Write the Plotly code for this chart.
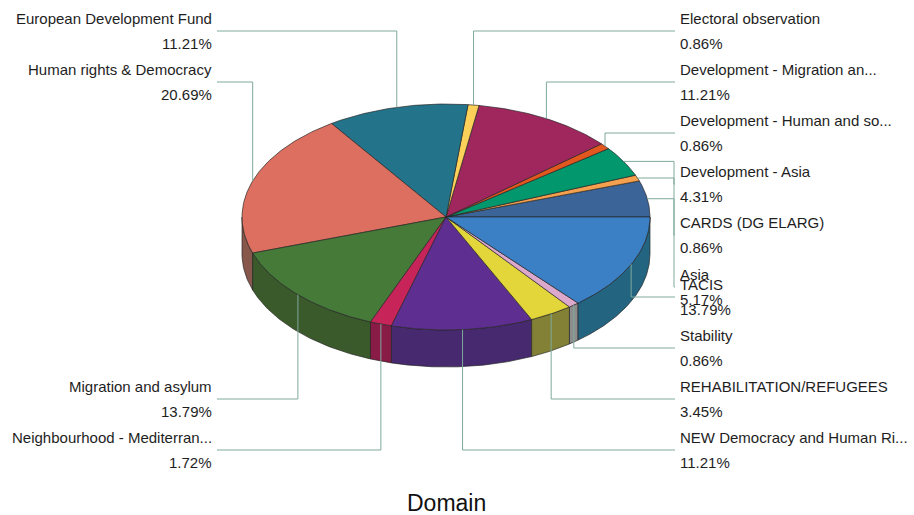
import numpy as np
import plotly.graph_objects as go

# ---------------- data ----------------
categories = [
    "Asia", "CARDS (DG ELARG)", "Development - Asia", "Development - Human and so...",
    "Development - Migration an...", "Electoral observation", "European Development Fund",
    "Human rights & Democracy", "Migration and asylum", "Neighbourhood - Mediterran...",
    "NEW Democracy and Human Ri...", "REHABILITATION/REFUGEES", "Stability", "TACIS",
]
counts = [6, 1, 5, 1, 13, 1, 13, 24, 16, 2, 13, 4, 1, 16]
chart_title = "Domain"

# ---------------- styles ----------------
top_colors = [
    "#3b6499", "#f4a04f", "#03976d", "#e2571e", "#a0275e", "#fdd05a", "#23748b",
    "#dc6f5f", "#467a39", "#c7245a", "#5e2e91", "#e3d63b", "#dca9cd", "#3b7fc4",
]
side_colors = [
    "#2a4a73", "#b8773a", "#026f50", "#a84016", "#771d46", "#bd9c43", "#1a5767",
    "#87574c", "#3a5a2b", "#891c47", "#46296f", "#828135", "#8c8c8c", "#236581",
]
# label layout: side and leader y (page pixel) per category
label_side = ["R", "R", "R", "R", "R", "R", "L", "L", "L", "L", "R", "R", "R", "R"]
label_y = [287, 235, 184, 133, 82, 31, 31, 82, 399, 450, 450, 399, 348, 297]

W, H = 914, 515
CX, CY, RX, RY, DEPTH = 446, 217, 204, 113, 37
RIGHT_X, LEFT_X, KNEE_X = 675, 217, 674
LEADER = "#7fa99b"
EDGE = "rgba(35,35,35,0.85)"
FONT = "Liberation Sans, Arial, sans-serif"

total = float(sum(counts))
fracs = [c / total for c in counts]
starts = np.concatenate([[0.0], np.cumsum(fracs)[:-1]]) * 360.0
ends = np.cumsum(fracs) * 360.0


def arc(a0, a1, dy=0.0):
    n = max(2, int(abs(a1 - a0) / 0.5) + 2)
    t = np.radians(np.linspace(a0, a1, n))
    return CX + RX * np.cos(t), CY - RY * np.sin(t) + dy


fig = go.Figure()

# side faces (front half: 180..360 deg)
for i in range(len(counts)):
    lo, hi = max(starts[i], 180.0), min(ends[i], 360.0)
    if hi <= lo:
        continue
    xt, yt = arc(lo, hi)
    xb, yb = arc(hi, lo, DEPTH)
    xs = np.concatenate([xt, xb, xt[:1]])
    ys = np.concatenate([yt, yb, yt[:1]])
    fig.add_trace(go.Scatter(x=xs, y=ys, fill="toself", fillcolor=side_colors[i],
                             mode="lines", line=dict(color=EDGE, width=0.8),
                             hoverinfo="skip", showlegend=False))

# top faces
for i in range(len(counts)):
    xa, ya = arc(starts[i], ends[i])
    xs = np.concatenate([[CX], xa, [CX]])
    ys = np.concatenate([[CY], ya, [CY]])
    fig.add_trace(go.Scatter(x=xs, y=ys, fill="toself", fillcolor=top_colors[i],
                             mode="lines", line=dict(color=EDGE, width=0.8),
                             hoverinfo="skip", showlegend=False))

# leader lines and labels
annotations = []
for i, name in enumerate(categories):
    mid = np.radians((starts[i] + ends[i]) / 2.0)
    px, py = CX + RX * np.cos(mid), CY - RY * np.sin(mid)
    ly = label_y[i]
    if label_side[i] == "R":
        if np.sin(mid) > 0 and ly > py:
            lx = [px, KNEE_X, KNEE_X, RIGHT_X]
            lyy = [py, py, ly, ly]
        else:
            lx = [px, px, RIGHT_X]
            lyy = [py, ly, ly]
        tx, anchor = RIGHT_X + 3, "left"
    else:
        lx = [px, px, LEFT_X]
        lyy = [py, ly, ly]
        tx, anchor = LEFT_X - 3, "right"
    fig.add_trace(go.Scatter(x=lx, y=lyy, mode="lines",
                             line=dict(color=LEADER, width=1),
                             hoverinfo="skip", showlegend=False))
    pct = "%.2f%%" % (fracs[i] * 100)
    for txt, off in ((name, -13), (pct, 12.5)):
        annotations.append(dict(x=tx, y=ly + off, xref="x", yref="y", text=txt,
                                showarrow=False, xanchor=anchor, yanchor="middle",
                                font=dict(family=FONT, size=15, color="#1e1e1e")))

annotations.append(dict(x=CX, y=503, xref="x", yref="y", text=chart_title,
                        showarrow=False, xanchor="center", yanchor="middle",
                        font=dict(family=FONT, size=23, color="#111111")))

fig.update_layout(
    width=W, height=H, margin=dict(l=0, r=0, t=0, b=0),
    paper_bgcolor="white", plot_bgcolor="white",
    xaxis=dict(range=[0, W], visible=False, fixedrange=True),
    yaxis=dict(range=[H, 0], visible=False, fixedrange=True),
    annotations=annotations, showlegend=False,
)
fig.write_html(
    "out.html",
    config={"displayModeBar": False},
    post_script="document.body.style.margin='0';"
                "document.documentElement.style.overflow='hidden';",
)
